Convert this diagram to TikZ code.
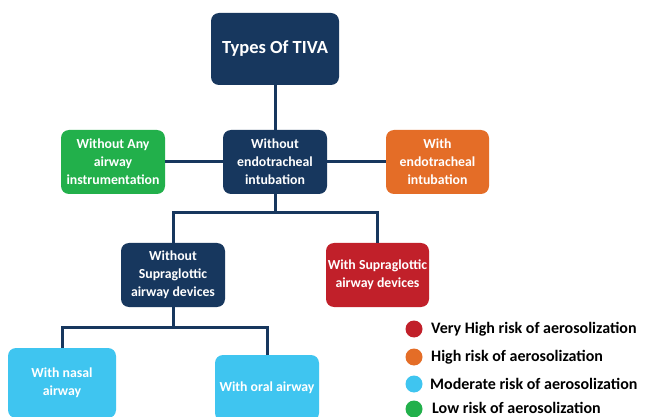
\documentclass[tikz,border=0pt]{standalone}
\usepackage{fontspec}
\setmainfont{Carlito}
\definecolor{navy}{HTML}{17375E}
\definecolor{lgreen}{HTML}{22B04B}
\definecolor{lorange}{HTML}{E46D27}
\definecolor{lred}{HTML}{C1202A}
\definecolor{lblue}{HTML}{3FC5F0}
\tikzset{
  box/.style={rectangle, rounded corners=8pt, draw=none, text=white, align=center,
    font=\fontsize{13.8}{18}\selectfont\bfseries, inner sep=0pt},
  conn/.style={draw=navy, line width=3pt},
  dot/.style={circle, minimum size=17pt, inner sep=0pt, draw=none},
  legtxt/.style={anchor=west, font=\fontsize{16}{19}\selectfont\bfseries, text=black, inner sep=0pt}
}
\begin{document}
\begin{tikzpicture}[x=1pt,y=-1pt]
\useasboundingbox (0,0) rectangle (654,417);
\clip (0,0) rectangle (654,417);
\fill[white] (0,0) rectangle (654,417);
\node[box, fill=navy, minimum width=128pt, minimum height=72pt, font=\fontsize{18.5}{22}\selectfont\bfseries] (tiva) at (275,49) {Types Of TIVA};
\node[box, fill=navy, minimum width=104pt, minimum height=64pt] (woet) at (275,162) {Without\\endotracheal\\intubation};
\node[box, fill=lgreen, minimum width=104pt, minimum height=64pt] (woany) at (113,162) {Without Any\\airway\\instrumentation};
\node[box, fill=lorange, minimum width=103pt, minimum height=64pt] (wet) at (437.5,162) {With\\endotracheal\\intubation};
\node[box, fill=navy, minimum width=104pt, minimum height=64pt] (wosad) at (173,275) {Without\\Supraglottic\\airway devices};
\node[box, fill=lred, minimum width=103pt, minimum height=64pt] (wsad) at (377.5,275) {With Supraglottic\\airway devices};
\node[box, fill=lblue, minimum width=108pt, minimum height=70pt] (nasal) at (62,383) {With nasal\\airway};
\node[box, fill=lblue, minimum width=104pt, minimum height=66pt] (oral) at (267,388) {With oral airway};
\coordinate (j1) at (275,213);
\coordinate (j2) at (173,327);
\draw[conn] (tiva.south) -- (woet.north);
\draw[conn] (woet.west) -- (woany.east);
\draw[conn] (woet.east) -- (wet.west);
\draw[conn] (woet.south) -- (j1);
\draw[conn] (wosad.north) |- (j1) -| (wsad.north);
\draw[conn] (wosad.south) -- (j2);
\draw[conn] (nasal.north) |- (j2) -| (oral.north);
\node[dot, fill=lred] (d1) at (414,329) {};
\node[dot, fill=lorange] (d2) at (414,357) {};
\node[dot, fill=lblue] (d3) at (414,384) {};
\node[dot, fill=lgreen] (d4) at (414,409) {};
\node[legtxt] (t1) at (431,329) {Very High risk of aerosolization};
\node[legtxt] (t2) at (431,357) {High risk of aerosolization};
\node[legtxt] (t3) at (430,384) {Moderate risk of aerosolization};
\node[legtxt] (t4) at (432,408) {Low risk of aerosolization};
\end{tikzpicture}
\end{document}
